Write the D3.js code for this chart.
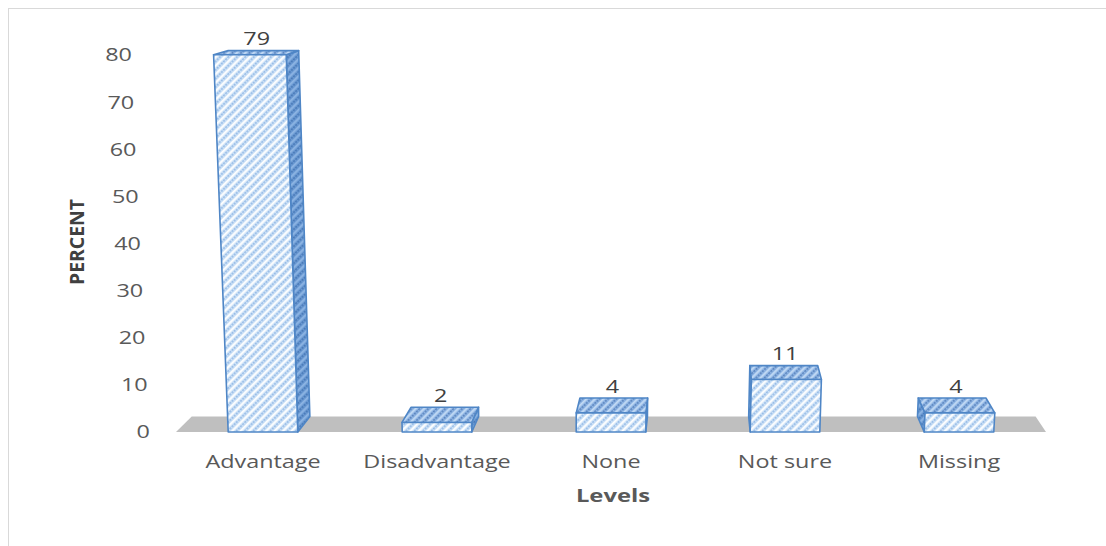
<!DOCTYPE html>
<html>
<head>
<meta charset="utf-8">
<script src="https://cdn.jsdelivr.net/npm/d3@7"></script>
<style>
  html, body { margin: 0; padding: 0; background: #ffffff; }
  svg { display: block; }
</style>
</head>
<body>
<svg id="chart" width="1106" height="546"></svg>
<script>
// ---- data ----
const categories = ["Advantage", "Disadvantage", "None", "Not sure", "Missing"];
const percents = [79, 2, 4, 11, 4];
const yTickValues = [0, 10, 20, 30, 40, 50, 60, 70, 80];
const xTitle = "Levels";
const yTitle = "PERCENT";

// ---- layout ----
const W = 1106, H = 546;
const svg = d3.select("#chart");

const x = d3.scaleBand()
  .domain(categories)
  .range([176, 1046])
  .paddingInner(0.6)
  .paddingOuter(0.3);

// value scale for the columns (front face) and for the wall labels
const y = d3.scaleLinear().domain([0, 80]).range([432, 50]);
const yAxisScale = d3.scaleLinear().domain([0, 80]).range([432, 55]);

// perspective: depth recedes toward a vanishing point above the plot,
// verticals converge slowly toward a point far below
const depthVP = [700, -83], depthK = 0.03;
const vertVP = [560, 9000];
const baseY = y(0);
function lean(x0, yy) {
  return vertVP[0] + (x0 - vertVP[0]) * (vertVP[1] - yy) / (vertVP[1] - baseY);
}
function back(p) {
  return [p[0] + (depthVP[0] - p[0]) * depthK, p[1] + (depthVP[1] - p[1]) * depthK];
}

const textScaleX = 1.3;
const labelFont = "'Open Sans', 'DejaVu Sans', sans-serif";

// ---- frame ----
svg.append("rect")
  .attr("x", 8.5).attr("y", 8.5)
  .attr("width", W).attr("height", 560)
  .attr("fill", "#ffffff")
  .attr("stroke", "#d9d9d9")
  .attr("stroke-width", 1);

// ---- fill patterns ----
const defs = svg.append("defs");
function stripes(id, bg, stripeColor, lightColor, angle, size) {
  const p = defs.append("pattern")
    .attr("id", id)
    .attr("patternUnits", "userSpaceOnUse")
    .attr("width", size).attr("height", size)
    .attr("patternTransform", `rotate(${angle})`);
  p.append("rect").attr("width", size).attr("height", size).attr("fill", bg);
  p.append("rect").attr("x", 0).attr("y", 0).attr("width", size).attr("height", size * 0.3).attr("fill", lightColor);
  p.append("line")
    .attr("x1", 0).attr("x2", size)
    .attr("y1", size * 0.65).attr("y2", size * 0.65)
    .attr("stroke", stripeColor).attr("stroke-width", size * 0.22)
    .attr("stroke-dasharray", "2,1");
}
stripes("frontFill", "#cfe3f7", "#86b0e2", "#ffffff", -45, 6);
stripes("sideFill", "#6b9ad3", "#3d6eae", "#8db4e3", -45, 6);
stripes("topFill", "#8fb5e4", "#4c77b3", "#c2daf4", -45, 6);

// ---- floor ----
const floorFront = [[176, baseY], [1046, baseY]];
const floorPts = [floorFront[0], floorFront[1], back(floorFront[1]), back(floorFront[0])];
svg.append("polygon")
  .attr("points", floorPts.map(p => p.join(",")).join(" "))
  .attr("fill", "#bfbfbf");

// ---- value axis labels ----
svg.append("g").selectAll("text")
  .data(yTickValues)
  .join("text")
  .attr("transform", d => `translate(${lean(150, yAxisScale(d))},${yAxisScale(d)}) scale(${textScaleX},1)`)
  .attr("text-anchor", "end")
  .attr("dy", "0.36em")
  .attr("font-family", labelFont)
  .attr("font-size", 18)
  .attr("fill", "#595959")
  .text(d => d);

// ---- columns ----
const bars = svg.append("g");
percents.forEach((v, i) => {
  const c = categories[i];
  const x0L = x(c), x0R = x(c) + x.bandwidth();
  const yt = y(v);
  const fl = [x0L, baseY], fr = [x0R, baseY];
  const tr = [lean(x0R, yt), yt], tl = [lean(x0L, yt), yt];
  const g = bars.append("g");
  const poly = (pts, fill) => g.append("polygon")
    .attr("points", pts.map(p => p.join(",")).join(" "))
    .attr("fill", fill)
    .attr("stroke", "#4f86c6")
    .attr("stroke-width", 1.6)
    .attr("stroke-linejoin", "round");
  // side face toward the vanishing point
  if (x0R < depthVP[0]) poly([fr, tr, back(tr), back(fr)], "url(#sideFill)");
  if (x0L > depthVP[0]) poly([fl, tl, back(tl), back(fl)], "url(#sideFill)");
  poly([tl, tr, back(tr), back(tl)], "url(#topFill)");
  poly([fl, fr, tr, tl], "url(#frontFill)");

  // value label above the top face
  const bt = back([(tl[0] + tr[0]) / 2, yt]);
  const lx = ((tl[0] + tr[0]) / 2 + bt[0]) / 2;
  svg.append("text")
    .attr("transform", `translate(${lx},${bt[1] - 12}) scale(${textScaleX},1)`)
    .attr("text-anchor", "middle")
    .attr("dy", "0.36em")
    .attr("font-family", labelFont)
    .attr("font-size", 18)
    .attr("fill", "#404040")
    .text(v);
});

// ---- category labels ----
svg.append("g").selectAll("text")
  .data(categories)
  .join("text")
  .attr("transform", d => `translate(${x(d) + x.bandwidth() / 2},462) scale(${textScaleX},1)`)
  .attr("text-anchor", "middle")
  .attr("dy", "0.36em")
  .attr("font-family", labelFont)
  .attr("font-size", 18)
  .attr("fill", "#595959")
  .text(d => d);

// ---- axis titles ----
svg.append("text")
  .attr("transform", "translate(613,496) scale(1.4,1)")
  .attr("text-anchor", "middle")
  .attr("dy", "0.36em")
  .attr("font-family", labelFont)
  .attr("font-weight", "bold")
  .attr("font-size", 17)
  .attr("fill", "#595959")
  .text(xTitle);

svg.append("text")
  .attr("transform", "translate(77,242) rotate(-90) scale(1.21,1.2)")
  .attr("text-anchor", "middle")
  .attr("dy", "0.36em")
  .attr("font-family", labelFont)
  .attr("font-weight", "bold")
  .attr("font-size", 16)
  .attr("fill", "#404040")
  .text(yTitle);
</script>
</body>
</html>
